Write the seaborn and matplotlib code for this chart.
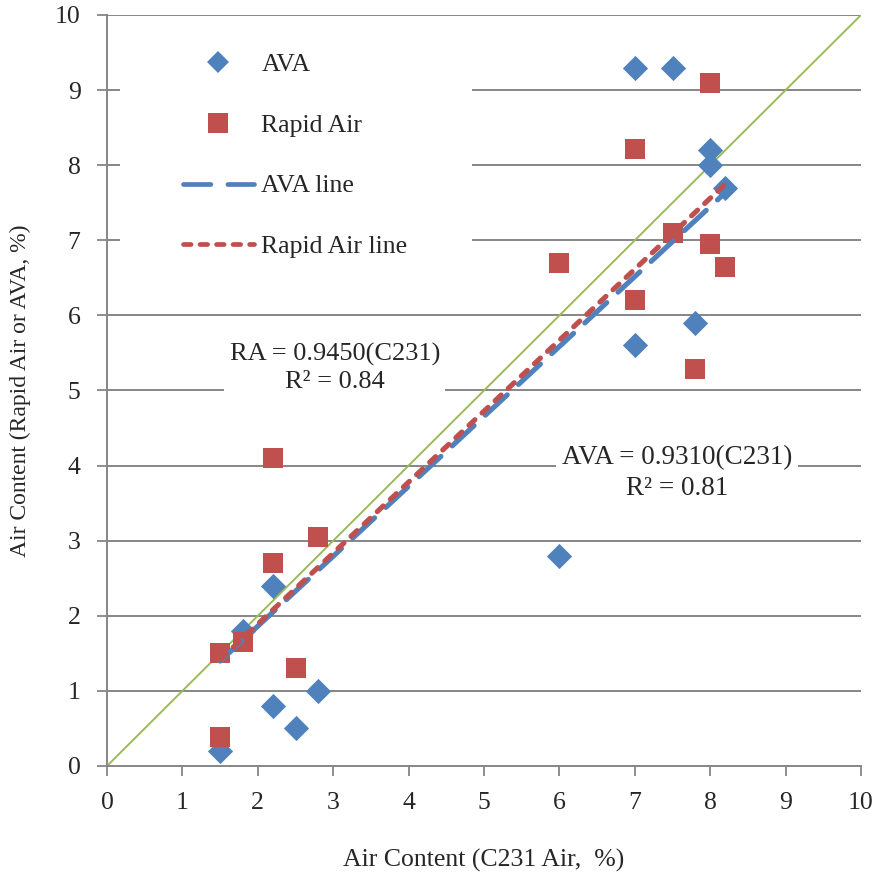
import matplotlib
matplotlib.use("Agg")
import matplotlib.pyplot as plt
import seaborn as sns
import numpy as np
import pandas as pd
from matplotlib.lines import Line2D
from matplotlib.patches import Rectangle

# Data
ava_x = [1.5, 1.8, 2.2, 2.2, 2.5, 2.8, 6.0, 7.0, 7.0, 7.5, 7.8, 8.0, 8.0, 8.2]
ava_y = [0.2, 1.8, 2.4, 0.8, 0.5, 1.0, 2.8, 5.6, 9.3, 9.3, 5.9, 8.2, 8.0, 7.7]
ra_x = [1.5, 1.5, 1.8, 2.2, 2.2, 2.5, 2.8, 6.0, 7.0, 7.0, 7.5, 7.8, 8.0, 8.0, 8.2]
ra_y = [0.38, 1.5, 1.65, 4.1, 2.7, 1.3, 3.05, 6.7, 8.22, 6.2, 7.1, 5.28, 9.1, 6.95, 6.65]
ava_slope = 0.9310
ra_slope = 0.9450
fit_range = [1.5, 8.2]
x_ticks = list(range(0, 11))
y_ticks = list(range(0, 11))

sns.set_theme(style="white")
plt.rcParams['font.family'] = ['Liberation Serif', 'DejaVu Serif']

FS = 18.5

fig = plt.figure(figsize=(8.8, 8.73), dpi=100)
ax = fig.add_axes([107/880, 1-766/873, (861-107)/880, (766-15)/873])

blue = "#4F81BD"
red = "#C0504D"
green = "#9BBB59"
grid_c = "#868686"

for yv in y_ticks[1:]:
    ax.axhline(yv, color=grid_c, lw=1.4, zorder=0)

# white panel behind the legend (hides gridlines as in the reference)
ax.add_patch(Rectangle((13/754, (766-258)/751), (472-120)/754, (258-25)/751,
                       transform=ax.transAxes, facecolor="white", edgecolor="none",
                       zorder=0.5))

# identity line
sns.lineplot(x=[0, 10], y=[0, 10], color=green, lw=1.4, ax=ax, zorder=1)

df_ava = pd.DataFrame({"x": ava_x, "y": ava_y})
df_ra = pd.DataFrame({"x": ra_x, "y": ra_y})
sns.scatterplot(data=df_ava, x="x", y="y", marker="D", s=165, color=blue,
                edgecolor=blue, linewidth=0, ax=ax, zorder=3)
sns.scatterplot(data=df_ra, x="x", y="y", marker="s", s=195, color=red,
                edgecolor=red, linewidth=0, ax=ax, zorder=3)

fx = np.array(fit_range)
ax.plot(fx, ava_slope * fx, color=blue, lw=3.7, dashes=(5.8, 3.0),
        dash_capstyle="round", zorder=4)
ax.plot(fx, ra_slope * fx, color=red, lw=3.7, dashes=(1.6, 1.9),
        dash_capstyle="round", zorder=5)

ax.set_xlim(0, 10)
ax.set_ylim(0, 10)
ax.set_xticks(x_ticks)
ax.set_yticks(y_ticks)
ax.tick_params(axis="both", direction="out", length=7, width=1.3, color=grid_c,
               labelsize=FS, bottom=True, left=True)
ax.tick_params(axis="x", pad=12)
ax.tick_params(axis="y", pad=12)
for s in ["top", "right"]:
    ax.spines[s].set_visible(False)
for s in ["left", "bottom"]:
    ax.spines[s].set_color(grid_c)
    ax.spines[s].set_linewidth(1.4)

ax.set_xlabel("Air Content (C231 Air,  %)", fontsize=FS, labelpad=25)
ax.set_ylabel("Air Content (Rapid Air or AVA, %)", fontsize=17, labelpad=17)

handles = [
    Line2D([], [], marker="D", color=blue, ls="none", markersize=11.5, markeredgewidth=0),
    Line2D([], [], marker="s", color=red, ls="none", markersize=14, markeredgewidth=0),
    Line2D([], [], color=blue, lw=3.4, dashes=(5.8, 3.6), dash_capstyle="round"),
    Line2D([], [], color=red, lw=3.4, dashes=(1.6, 1.9), dash_capstyle="round"),
]
labels = ["AVA", "Rapid Air", "AVA line", "Rapid Air line"]
leg = ax.legend(handles, labels, loc="upper left",
                bbox_to_anchor=((183-107)/754, (766-53)/751),
                frameon=False, fontsize=FS, labelspacing=1.47, handlelength=2.75,
                handletextpad=0.3, borderpad=0, borderaxespad=0)
leg.set_zorder(6)

ax.text(3.02, 5.30, "RA = 0.9450(C231)\nR² = 0.84", ha="center", va="center",
        fontsize=19, linespacing=1.3, zorder=6,
        bbox=dict(facecolor="white", edgecolor="none", pad=4))
ax.text(7.56, 3.90, "AVA = 0.9310(C231)\nR² = 0.81", ha="center", va="center",
        fontsize=19.5, linespacing=1.32, zorder=6,
        bbox=dict(facecolor="white", edgecolor="none", pad=4))

fig.savefig("out.png", dpi=100, facecolor="white")
